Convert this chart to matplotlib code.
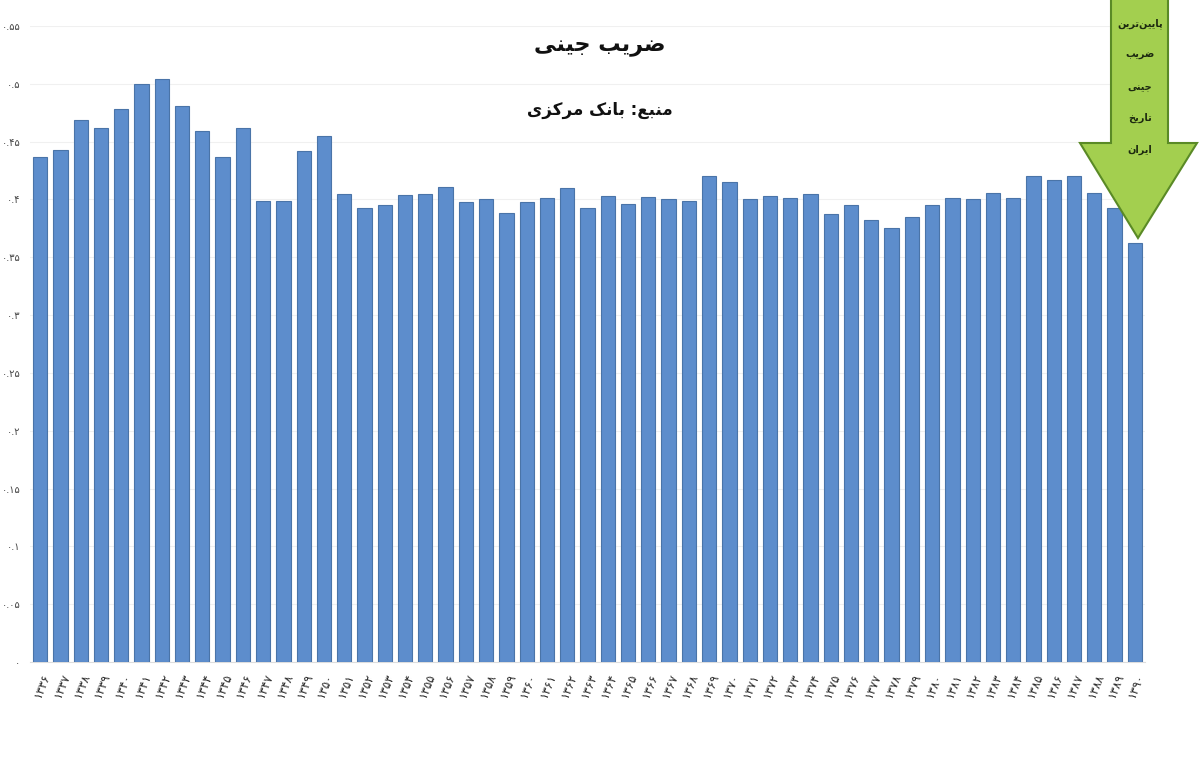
import numpy as np
import matplotlib
matplotlib.use('Agg')
import matplotlib.pyplot as plt
from matplotlib.patches import Polygon

# Gini coefficient (years 1336..1390)
years = list(range(1336, 1391))
gini = [0.437, 0.443, 0.469, 0.462, 0.478, 0.500, 0.504, 0.481, 0.459, 0.437,
        0.462, 0.399, 0.399, 0.442, 0.455, 0.405, 0.393, 0.395, 0.404, 0.405,
        0.411, 0.398, 0.400, 0.388, 0.398, 0.401, 0.410, 0.393, 0.403, 0.396,
        0.402, 0.400, 0.399, 0.420, 0.415, 0.400, 0.403, 0.401, 0.405, 0.387,
        0.395, 0.382, 0.375, 0.385, 0.395, 0.401, 0.400, 0.406, 0.401, 0.420,
        0.417, 0.420, 0.406, 0.393, 0.362]
yticks = [0, 0.05, 0.1, 0.15, 0.2, 0.25, 0.3, 0.35, 0.4, 0.45, 0.5, 0.55]

title = 'ضریب جینی'
subtitle = 'منبع: بانک مرکزی'
arrow_lines = ['پایین\u200cترین', 'ضریب', 'جینی', 'تاریخ', 'ایران']

# --- minimal persian shaping (matplotlib has no RTL / joining) ---
forms = {
    'ا': ('\uFE8D', '\uFE8E', None, None),
    'ب': ('\uFE8F', '\uFE90', '\uFE91', '\uFE92'),
    'پ': ('\uFB56', '\uFB57', '\uFB58', '\uFB59'),
    'ت': ('\uFE95', '\uFE96', '\uFE97', '\uFE98'),
    'ج': ('\uFE9D', '\uFE9E', '\uFE9F', '\uFEA0'),
    'خ': ('\uFEA5', '\uFEA6', '\uFEA7', '\uFEA8'),
    'ر': ('\uFEAD', '\uFEAE', None, None),
    'ز': ('\uFEAF', '\uFEB0', None, None),
    'ض': ('\uFEBD', '\uFEBE', '\uFEBF', '\uFEC0'),
    'ع': ('\uFEC9', '\uFECA', '\uFECB', '\uFECC'),
    'ک': ('\uFB8E', '\uFB8F', '\uFB90', '\uFB91'),
    'م': ('\uFEE1', '\uFEE2', '\uFEE3', '\uFEE4'),
    'ن': ('\uFEE5', '\uFEE6', '\uFEE7', '\uFEE8'),
    'ی': ('\uFBFC', '\uFBFD', '\uFBFE', '\uFBFF'),
}


def joins_left(c):
    return c in forms and forms[c][2] is not None


def shape(s):
    out = []
    for i, c in enumerate(s):
        if c not in forms:
            if c != '\u200c':
                out.append(c)
            continue
        prev = s[i - 1] if i > 0 else ''
        nxt = s[i + 1] if i < len(s) - 1 else ''
        p = joins_left(prev)
        n = joins_left(c) and nxt in forms
        iso, fin, ini, med = forms[c]
        if p and n:
            out.append(med)
        elif p:
            out.append(fin)
        elif n:
            out.append(ini)
        else:
            out.append(iso)
    return ''.join(out[::-1])


fa_digits = str.maketrans('0123456789', '۰۱۲۳۴۵۶۷۸۹')


def fa(v):
    return ('%g' % v).translate(fa_digits)


plt.rcParams['font.family'] = ['DejaVu Sans']

fig = plt.figure(figsize=(12, 7.66), dpi=100)
ax = fig.add_axes([30 / 1200, 104 / 766, 1115 / 1200, (662 - 26) / 766])

x = np.arange(len(years))
ax.bar(x, gini, width=0.7, color='#5d8dcc', edgecolor='#4a74a8', linewidth=0.8, zorder=3)

ax.set_xlim(-0.5, len(years) - 0.5)
ax.set_ylim(0, 0.55)
ax.set_yticks(yticks)
ax.set_yticklabels([fa(v) for v in yticks], fontsize=7, color='#444444')
ax.set_xticks(x)
ax.set_xticklabels([str(y).translate(fa_digits) for y in years], rotation=68,
                   ha='right', va='top', fontsize=8.5, color='#2a2a2a', rotation_mode='anchor')
ax.tick_params(axis='both', length=0, pad=7)
ax.grid(axis='y', color='#f0f0f0', linewidth=0.8, zorder=0)
for sp in ax.spines.values():
    sp.set_visible(False)
ax.spines['bottom'].set_visible(True)
ax.spines['bottom'].set_color('#dddddd')

fig.text(600 / 1200, 1 - 47 / 766, shape(title), ha='center', va='center',
         fontsize=16, fontweight='bold', color='#111111')
fig.text(600 / 1200, 1 - 110 / 766, shape(subtitle), ha='center', va='center',
         fontsize=12, fontweight='bold', color='#111111')

# green arrow pointing at the last bar
pts = [(1111, -5), (1168, -5), (1168, 143), (1197, 143), (1138, 238),
       (1080, 143), (1111, 143)]
pts = [(px / 1200, 1 - py / 766) for px, py in pts]
fig.patches.append(Polygon(pts, closed=True, transform=fig.transFigure,
                           facecolor='#a3cf4f', edgecolor='#5a8a26', linewidth=1.5, zorder=5))
for yy, line in zip([24, 55, 87, 118, 150], arrow_lines):
    fig.text(1140 / 1200, 1 - yy / 766, shape(line), ha='center', va='center',
             fontsize=7, fontweight='bold', color='#1d2a10', zorder=6)

fig.savefig('out.png', dpi=100, facecolor='white')
